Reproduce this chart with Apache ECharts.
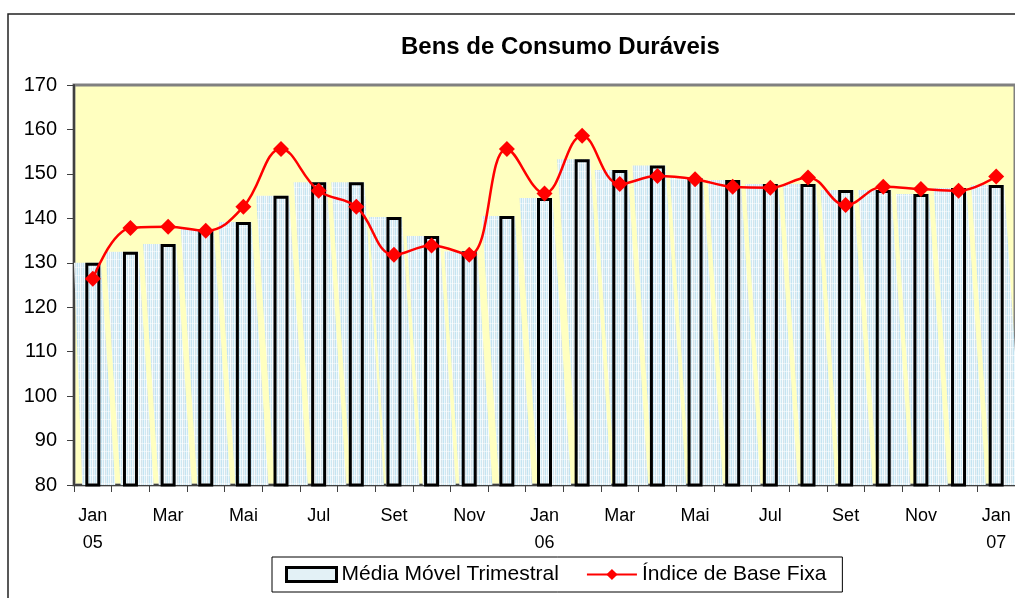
<!DOCTYPE html>
<html><head><meta charset="utf-8">
<script src="https://cdn.jsdelivr.net/npm/echarts@6/dist/echarts.min.js"></script>
<style>html,body{margin:0;padding:0;background:#fff}#c{width:1015px;height:598px}</style>
</head><body><div id="c"></div>
<script>
const categories = ['Jan\n05','Fev','Mar','Abr','Mai','Jun','Jul','Ago','Set','Out','Nov','Dez',
  'Jan\n06','Fev','Mar','Abr','Mai','Jun','Jul','Ago','Set','Out','Nov','Dez','Jan\n07'];
const mediaMovel = [130.0,132.5,134.2,137.6,139.2,145.1,148.1,148.1,140.3,136.0,132.6,140.5,
  144.6,153.3,150.9,151.9,149.0,148.6,147.7,147.7,146.4,146.4,145.5,146.8,147.5];
const indiceBase = [126.4,137.8,138.1,137.2,142.6,155.6,146.2,142.6,131.8,133.9,131.8,155.6,
  145.6,158.6,147.7,149.5,148.8,147.1,146.9,149.2,143.0,147.1,146.6,146.2,149.4];
const yMin = 80, yMax = 170, yStep = 10;
const seriesNames = ['Média Móvel Trimestral', 'Índice de Base Fixa'];
const titleText = 'Bens de Consumo Duráveis';

// striped texture for the bar "shadow"
const pc = document.createElement('canvas');
pc.width = 6; pc.height = 8;
const pctx = pc.getContext('2d');
const cols = ['#eef7fb','#cde8f3','#f6fbfd','#d5e3ea','#e4f3f9','#c4e4f2'];
for (let i = 0; i < 6; i++) { pctx.fillStyle = cols[i]; pctx.fillRect(i, 0, 1, 8); }
pctx.fillStyle = 'rgba(255,255,255,0.5)'; pctx.fillRect(0, 3, 6, 1);
const stripe = { image: pc, repeat: 'repeat' };

const chart = echarts.init(document.getElementById('c'), null, { renderer: 'canvas' });
const FONT = 'Liberation Sans, Arial, sans-serif';
chart.setOption({
  animation: false,
  backgroundColor: '#ffffff',
  title: {
    text: titleText, left: 401, top: 35, padding: 0,
    textStyle: { fontFamily: FONT, fontSize: 24, fontWeight: 'bold', color: '#000' }
  },
  graphic: [{
    type: 'rect', z: -10,
    shape: { x: 8, y: 14, width: 1200, height: 800 },
    style: { fill: 'none', stroke: '#222', lineWidth: 1.5 }
  }],
  grid: {
    left: 74, top: 85, width: 944, height: 400,
    show: true, backgroundColor: '#FFFFC0', borderColor: '#808080', borderWidth: 3
  },
  legend: {
    left: 272, top: 557, padding: [7, 16, 7, 13], itemGap: 27,
    itemWidth: 50, itemHeight: 14,
    borderColor: '#000', borderWidth: 1, backgroundColor: '#fff',
    textStyle: { fontFamily: FONT, fontSize: 21, color: '#000' },
    data: [
      { name: seriesNames[0], icon: 'rect', itemStyle: { color: '#e3f1f6', borderColor: '#000', borderWidth: 3 } },
      { name: seriesNames[1] }
    ]
  },
  xAxis: {
    type: 'category', data: categories, boundaryGap: true,
    axisLine: { lineStyle: { color: '#404040', width: 2 } },
    axisTick: { show: true, interval: 0, length: 7, lineStyle: { color: '#404040', width: 1 } },
    axisLabel: { interval: 1, fontFamily: FONT, fontSize: 18, lineHeight: 27, margin: 18, color: '#000' },
    splitLine: { show: false }
  },
  yAxis: {
    type: 'value', min: yMin, max: yMax, interval: yStep,
    axisLine: { show: true, lineStyle: { color: '#404040', width: 2 } },
    axisTick: { show: true, length: 7, lineStyle: { color: '#404040', width: 1 } },
    axisLabel: { fontFamily: FONT, fontSize: 20, margin: 17, color: '#000' },
    splitLine: { show: false }
  },
  series: [
    {
      type: 'custom', name: 'shadow', z: 1, silent: true,
      data: mediaMovel.map((v, i) => [i, v]),
      renderItem: function (params, api) {
        const top = api.coord([api.value(0), api.value(1)]);
        const base = api.coord([api.value(0), yMin]);
        const left = params.coordSys.x;
        const cx = top[0];
        const sh = (base[1] - top[1]) * 0.065;
        const pts = [
          [Math.max(cx - 25, left), top[1]], [cx + 8, top[1]],
          [cx + 8 + sh, base[1]], [Math.max(cx - 25 + sh, left), base[1]]
        ];
        return { type: 'polygon', shape: { points: pts }, style: { fill: stripe } };
      }
    },
    {
      type: 'bar', name: seriesNames[0], data: mediaMovel, z: 2,
      barWidth: 15,
      itemStyle: { color: 'rgba(0,0,0,0)', borderColor: '#000', borderWidth: 3 }
    },
    {
      type: 'line', name: seriesNames[1], data: indiceBase, z: 3,
      smooth: 0.4, symbol: 'diamond', symbolSize: 16,
      lineStyle: { color: '#ff0000', width: 2.5 },
      itemStyle: { color: '#ff0000' }
    }
  ]
});
</script></body></html>
